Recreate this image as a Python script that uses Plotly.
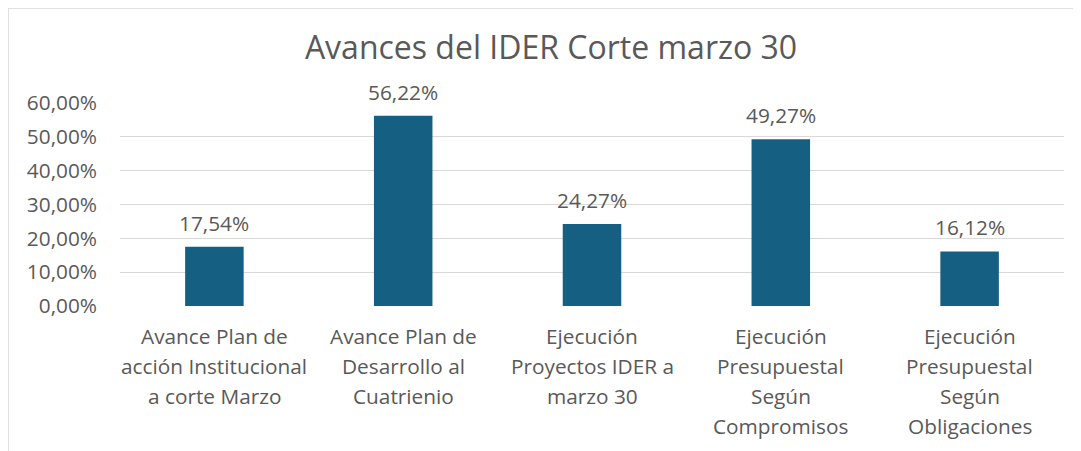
import plotly.graph_objects as go

categories = [
    "Avance Plan de<br>acción Institucional<br>a corte Marzo",
    "Avance Plan de<br>Desarrollo al<br>Cuatrienio",
    "Ejecución<br>Proyectos IDER a<br>marzo 30",
    "Ejecución<br>Presupuestal<br>Según<br>Compromisos",
    "Ejecución<br>Presupuestal<br>Según<br>Obligaciones",
]
values = [0.1754, 0.5622, 0.2427, 0.4927, 0.1612]
title_text = "Avances del IDER Corte marzo 30"

OFF = 8  # page body margin
W, H = 1081 - OFF, 451 - OFF
L, R, T, B = 120 - OFF, 1064.5 - OFF, 103 - OFF, 306 - OFF
TXT = "#595959"
FONT = "Open Sans"
FS = 20.8

xs = list(range(len(categories)))

fig = go.Figure(go.Bar(
    x=xs, y=values, marker=dict(color="#156082", line=dict(width=0)),
    width=0.31, hoverinfo="skip",
))

annotations = []
for x, v in zip(xs, values):
    annotations.append(dict(
        x=x, y=v, xref="x", yref="y", text=f"{v*100:.2f}%".replace(".", ","),
        showarrow=False, yshift=24, font=dict(family=FONT, size=FS, color=TXT),
        xanchor="center", yanchor="middle",
    ))
for x, c in zip(xs, categories):
    for i, line in enumerate(c.split("<br>")):
        annotations.append(dict(
            x=x, y=0, xref="x", yref="y", text=line, showarrow=False,
            yshift=-(30 + 30 * i), font=dict(family=FONT, size=FS, color=TXT),
            xanchor="center", yanchor="middle",
        ))

def px_x(p):
    return (p - L) / (R - L)

def px_y(p):
    return (B - p) / (B - T)

shapes = [
    dict(type="line", xref="paper", yref="paper", x0=px_x(0), x1=px_x(W),
         y0=px_y(0), y1=px_y(0), line=dict(color="#d9d9d9", width=1.5)),
    dict(type="line", xref="paper", yref="paper", x0=px_x(0), x1=px_x(0),
         y0=px_y(0), y1=px_y(H), line=dict(color="#d9d9d9", width=1.5)),
]

fig.update_layout(
    width=W, height=H,
    margin=dict(l=L, r=W - R, t=T, b=H - B, pad=0),
    paper_bgcolor="white", plot_bgcolor="white",
    separators=",.",
    showlegend=False,
    title=dict(text=title_text, x=(551 - OFF) / W, xanchor="center", y=1 - (48 - OFF) / H,
               yanchor="middle", font=dict(family=FONT, size=32, color=TXT)),
    xaxis=dict(range=[-0.5, len(categories) - 0.5], showticklabels=False,
               showgrid=False, zeroline=False, showline=False, ticks=""),
    yaxis=dict(range=[0, 0.6], dtick=0.1, tickformat=".2%", showgrid=True,
               gridcolor="#d9d9d9", gridwidth=1.3, zeroline=False, showline=False,
               ticks="", ticklabelstandoff=22,
               tickfont=dict(family=FONT, size=FS, color=TXT)),
    annotations=annotations,
    shapes=shapes,
)

fig.write_html("out.html")
